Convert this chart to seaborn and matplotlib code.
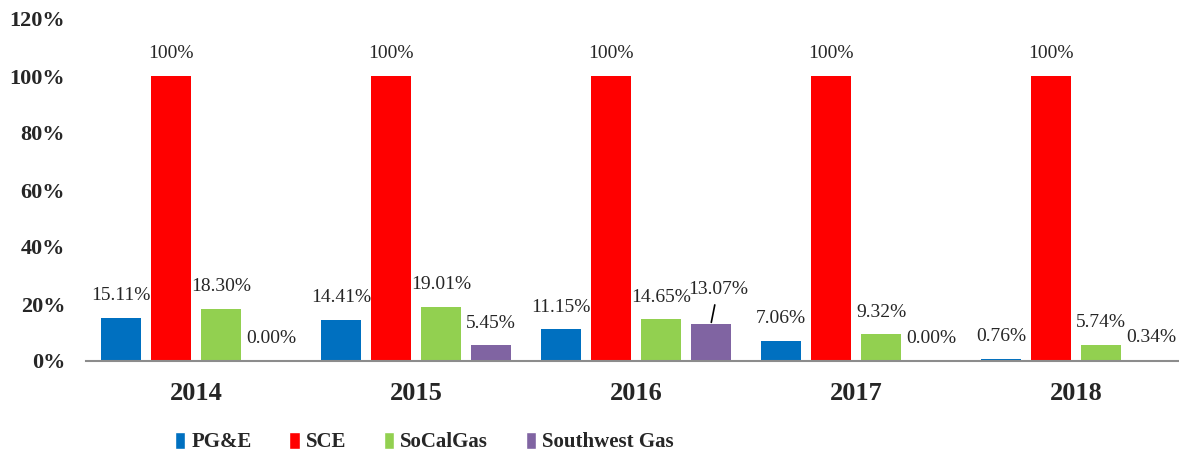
import pandas as pd
import matplotlib
matplotlib.use('Agg')
import matplotlib.pyplot as plt
import seaborn as sns
from matplotlib.patches import Patch

sns.set_style('white')
plt.rcParams['font.family'] = ['Liberation Serif', 'DejaVu Serif']

# 데이터
years = ['2014', '2015', '2016', '2017', '2018']
companies = ['PG&E', 'SCE', 'SoCalGas', 'Southwest Gas']
pge = [15.11, 14.41, 11.15, 7.06, 0.76]
sce = [100, 100, 100, 100, 100]
socal = [18.30, 19.01, 14.65, 9.32, 5.74]
swgas = [0.00, 5.45, 13.07, 0.00, 0.34]
label_text = {
    'PG&E': ['15.11%', '14.41%', '11.15%', '7.06%', '0.76%'],
    'SCE': ['100%'] * 5,
    'SoCalGas': ['18.30%', '19.01%', '14.65%', '9.32%', '5.74%'],
    'Southwest Gas': ['0.00%', '5.45%', '13.07%', '0.00%', '0.34%'],
}
colors = ['#0070C0', '#FF0000', '#92D050', '#8064A2']

df = pd.DataFrame({
    'year': years * 4,
    'company': sum([[c] * 5 for c in companies], []),
    'value': pge + sce + socal + swgas,
})

fig = plt.figure(figsize=(11.79, 4.58), dpi=100)
ax = fig.add_axes([86 / 1179, 1 - 361 / 458, 1 - 86 / 1179, (361 - 19) / 458])

sns.barplot(data=df, x='year', y='value', hue='company', order=years, hue_order=companies,
            palette=colors, width=0.909, gap=0.2, saturation=1, linewidth=0,
            legend=False, ax=ax)

# 데이터 라벨
for cont, comp in zip(ax.containers, companies):
    for bar, txt in zip(cont, label_text[comp]):
        cx = bar.get_x() + bar.get_width() / 2
        top = bar.get_height()
        if txt == '13.07%':
            ax.annotate(txt, xy=(cx, top), xytext=(5, 25), textcoords='offset points',
                        ha='center', va='center', fontsize=14,
                        arrowprops=dict(arrowstyle='-', color='black', lw=1.2,
                                        shrinkA=3, shrinkB=1))
        else:
            ax.annotate(txt, xy=(cx, top), xytext=(0, 16), textcoords='offset points',
                        ha='center', va='center', fontsize=14)

ax.set_ylim(0, 120)
ax.set_xlim(-0.5, 4.468)
ax.set_yticks(range(0, 121, 20))
ax.set_yticklabels([f'{v}%' for v in range(0, 121, 20)], fontsize=16, fontweight='bold')
ax.tick_params(axis='y', length=0, pad=15)
ax.tick_params(axis='x', length=0, pad=15, labelsize=19)
for t in ax.get_xticklabels():
    t.set_fontweight('bold')
ax.set_xlabel('')
ax.set_ylabel('')
for s in ['left', 'right', 'top']:
    ax.spines[s].set_visible(False)
ax.spines['bottom'].set_color('#8c8c8c')
ax.spines['bottom'].set_linewidth(1.5)

handles = [Patch(facecolor=c, label=n) for c, n in zip(colors, companies)]
fig.legend(handles=handles, loc='center left', bbox_to_anchor=(156 / 1179, 0.035), ncol=4,
           frameon=False, handlelength=0.5, handleheight=0.9, handletextpad=0.3,
           columnspacing=1.8, prop={'weight': 'bold', 'size': 15})

plt.savefig('out.png', dpi=100)
